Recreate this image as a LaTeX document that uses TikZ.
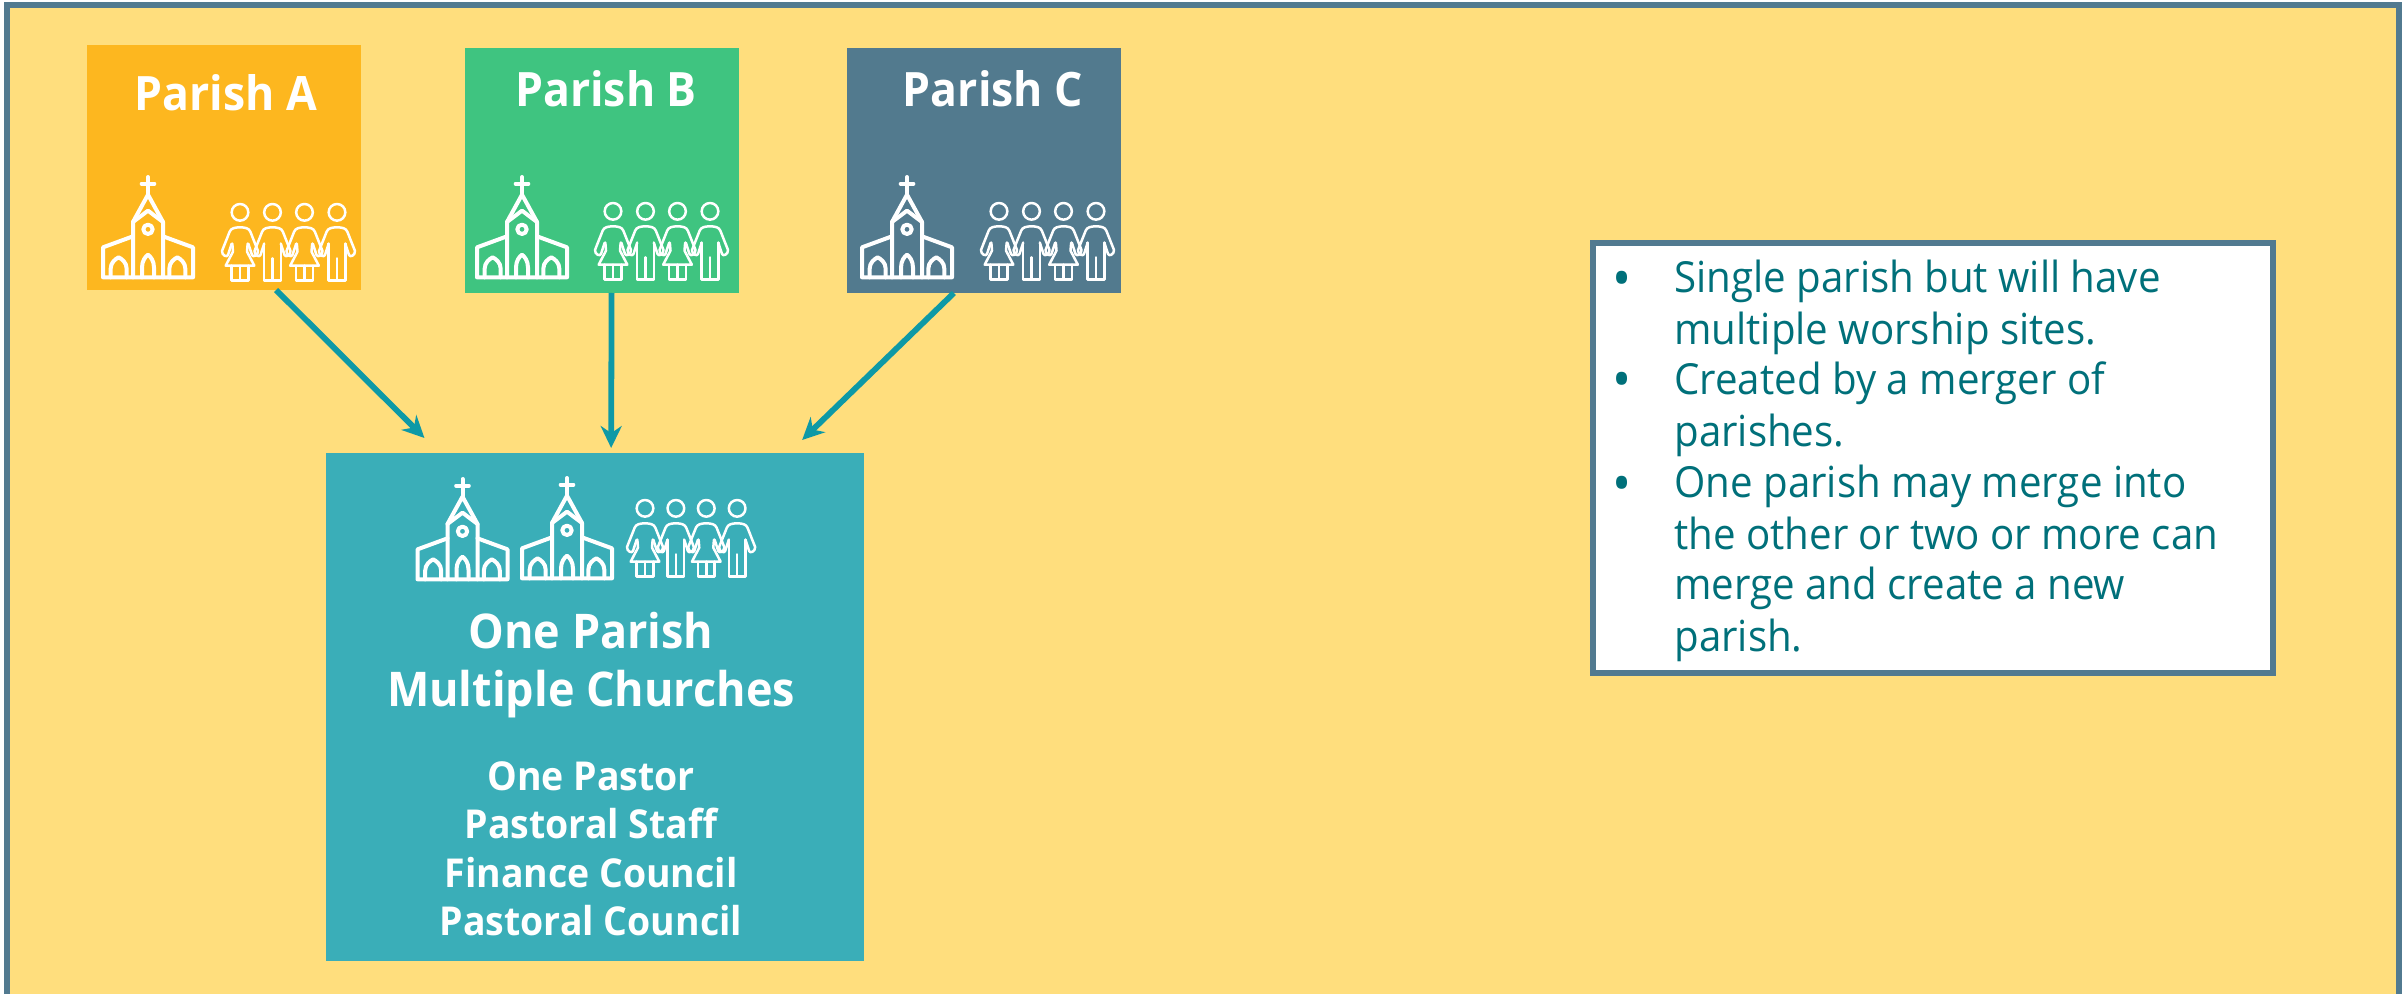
\documentclass[tikz,border=0pt]{standalone}
\usepackage{fontspec}
\setmainfont{Open Sans}[FakeStretch=0.94]
\usetikzlibrary{arrows.meta,calc}
\definecolor{bgY}{HTML}{FFDE7D}
\definecolor{frameC}{HTML}{527A90}
\definecolor{pA}{HTML}{FDB71F}
\definecolor{pB}{HTML}{3FC480}
\definecolor{pC}{HTML}{527A8E}
\definecolor{mainC}{HTML}{3AAEB8}
\definecolor{txtC}{HTML}{00707A}
\definecolor{arrC}{HTML}{0E99A6}
\newcommand{\personarmsdraw}{%
   \draw (0,206) circle (25);
   \draw (-25,112)--(-36,78) .. controls (-38,70) and (-55,76) .. (-54,90)
     -- (-31,148) .. controls (-27,158) and (-16,161) .. (0,161)
     .. controls (16,161) and (27,158) .. (31,148)
     -- (54,90) .. controls (55,76) and (38,70) .. (36,78) -- (25,112);
}
\tikzset{
 colorbox/.style={anchor=north west,inner sep=0pt,outer sep=0pt,draw=none},
 parishtitle/.style={anchor=base,text=white,inner sep=0pt,font=\fontsize{23.7pt}{28pt}\selectfont\bfseries},
 maintitle/.style={anchor=base,text=white,inner sep=0pt,font=\fontsize{23.9pt}{28pt}\selectfont\bfseries},
 mainsub/.style={anchor=base,text=white,inner sep=0pt,font=\fontsize{19.9pt}{23pt}\selectfont\bfseries},
 bodyline/.style={anchor=base west,text=txtC,inner sep=0pt,font=\fontsize{21.4pt}{26pt}\selectfont},
 bulletmark/.style={anchor=base west,text=txtC,inner sep=0pt,font=\fontsize{27pt}{30pt}\selectfont},
 flowarrow/.style={draw=arrC,line width=2.9pt,-{Stealth[length=11pt,width=10.5pt]}},
 pics/church/.style={code={
  \begin{scope}[scale=1/3,yscale=-1,draw=white,line width=2pt,line join=round,line cap=round]
   \draw (-135,2)--(135,2)--(135,92)--(45,125) (-135,2)--(-135,92)--(-45,125);
   \draw (-45,2)--(-45,168)--(0,250)--(45,168)--(45,2);
   \draw (-45,168)--(0,202)--(45,168);
   \draw (0,250)--(0,303) (-19,283)--(19,283);
   \draw (0,146) circle (14);
   \foreach \cx/\hw/\ht in {-88/24/62,0/18/70,88/24/62}{
    \draw (\cx-\hw,2)--(\cx-\hw,\ht*0.45) .. controls (\cx-\hw,\ht*0.75) and (\cx-\hw*0.4,\ht*0.92) .. (\cx,\ht)
      .. controls (\cx+\hw*0.4,\ht*0.92) and (\cx+\hw,\ht*0.75) .. (\cx+\hw,\ht*0.45)--(\cx+\hw,2);
   }
  \end{scope}}},
 pics/womanfig/.style={code={
  \begin{scope}[scale=1/3,yscale=-1,draw=white,line width=1.25pt,line join=round,line cap=round]
   \personarmsdraw
   \draw (-23,112)--(-21,88)--(-43,46)--(43,46)--(21,88)--(23,112);
   \draw (-25,46)--(-25,2)--(25,2)--(25,46) (0,2)--(0,46);
  \end{scope}}},
 pics/manfig/.style={code={
  \begin{scope}[scale=1/3,yscale=-1,draw=white,line width=1.25pt,line join=round,line cap=round]
   \personarmsdraw
   \draw (-25,112)--(-25,2)--(25,2)--(25,112);
   \draw (0,2)--(0,68);
  \end{scope}}},
 pics/foursome/.style={code={
  \pic at (0,0) {womanfig};
  \pic at (32.5,0) {manfig};
  \pic at (64.5,0) {womanfig};
  \pic at (97,0) {manfig};}}
}
\begin{document}
\begin{tikzpicture}[x=0.5pt,y=-0.5pt]
\useasboundingbox (0,0) rectangle (2402,994);
\clip (0,0) rectangle (2402,994);
\fill[white] (0,0) rectangle (2402,994);
\draw[fill=bgY,draw=frameC,line width=3pt] (6.5,5.5) rectangle (2398.5,1100);

\node[colorbox,fill=pA,minimum width=137pt,minimum height=122.5pt] (a) at (87,45) {};
\node[colorbox,fill=pB,minimum width=137pt,minimum height=122.5pt] (b) at (465,48) {};
\node[colorbox,fill=pC,minimum width=137pt,minimum height=122.5pt] (c) at (847,48) {};
\node[colorbox,fill=mainC,minimum width=269pt,minimum height=254pt] (m) at (326,453) {};
\node[colorbox,fill=white,draw=frameC,line width=2.8pt,minimum width=340pt,minimum height=215pt] (note) at (1593,243) {};

\node[parishtitle] (ta) at (226,111) {Parish A};
\node[parishtitle] (tb) at (606,107) {Parish B};
\node[parishtitle] (tc) at (993,107) {Parish C};

\pic at (148,278) {church};
\pic at (240,281) {foursome};
\pic at (522,278) {church};
\pic at (613,280) {foursome};
\pic at (907,278) {church};
\pic at (999,280) {foursome};

\pic at (462.5,580) {church};
\pic at (567,579) {church};
\pic[scale=0.95] at (645,577) {foursome};

\node[maintitle] (m1) at (591,648) {One Parish};
\node[maintitle] (m2) at (591,706) {Multiple Churches};
\node[mainsub] (s1) at (591,790) {One Pastor};
\node[mainsub] (s2) at (591,838) {Pastoral Staff};
\node[mainsub] (s3) at (591,887) {Finance Council};
\node[mainsub] (s4) at (591,935) {Pastoral Council};

\coordinate (ea) at ($(m.north west)!0.183!(m.north east)+(0,-15)$);
\coordinate (eb) at ($(m.north west)!0.53!(m.north east)+(0,-5)$);
\coordinate (ec) at ($(m.north west)!0.885!(m.north east)+(0,-13)$);
\draw[flowarrow] ($(a.south west)!0.69!(a.south east)$) -- (ea);
\draw[flowarrow] ($(b.south west)!0.535!(b.south east)$) -- (eb);
\draw[flowarrow] ($(c.south west)!0.39!(c.south east)$) -- (ec);

\foreach \n/\yy in {b1/298,b2/399,b3/502}{
 \node[bulletmark] (\n) at (1612,\yy) {•};
}
\node[bodyline] (l1) at (1674,293) {Single parish but will have};
\node[bodyline] (l2) at (1674,344) {multiple worship sites.};
\node[bodyline] (l3) at (1674,394) {Created by a merger of};
\node[bodyline] (l4) at (1674,446) {parishes.};
\node[bodyline] (l5) at (1674,497) {One parish may merge into};
\node[bodyline] (l6) at (1674,549) {the other or two or more can};
\node[bodyline] (l7) at (1674,599) {merge and create a new};
\node[bodyline] (l8) at (1674,651) {parish.};
\end{tikzpicture}
\end{document}
